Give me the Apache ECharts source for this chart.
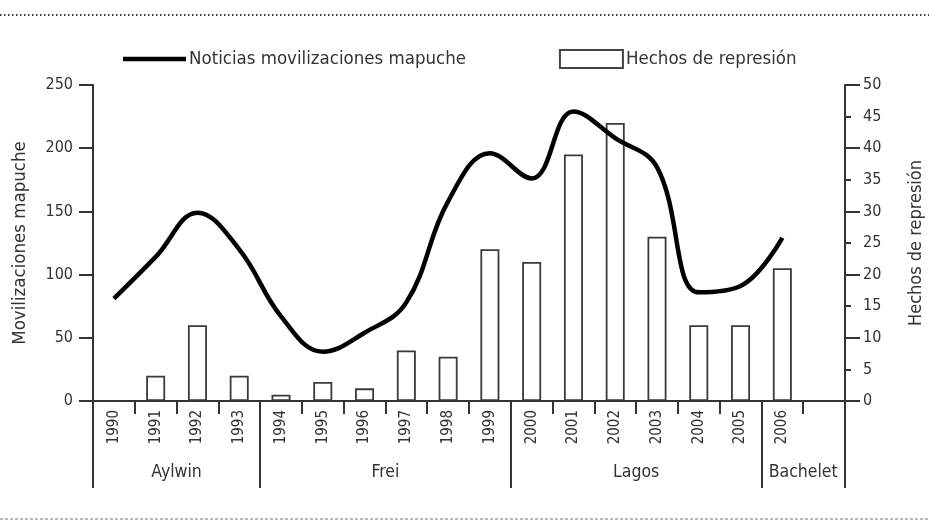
<!DOCTYPE html>
<html>
<head>
<meta charset="utf-8">
<script src="https://cdn.jsdelivr.net/npm/echarts@6/dist/echarts.min.js"></script>
<style>
  html, body { margin: 0; padding: 0; background: #fff; }
  #chart { width: 929px; height: 521px; }
</style>
</head>
<body>
<div id="chart"></div>
<script>
// years on the axis; the last slot is left empty like in the original
var years = ['1990', '1991', '1992', '1993', '1994', '1995', '1996', '1997', '1998',
             '1999', '2000', '2001', '2002', '2003', '2004', '2005', '2006', ''];

// news about mapuche mobilisations (left axis)
var noticias = [81, 114, 149, 120, 67, 39, 54, 78, 158, 196, 176, 229, 208, 185, 86, 91, 129, null];

// acts of repression (right axis)
var represion = [null, 4, 12, 4, 1, 3, 2, 8, 7, 24, 22, 39, 44, 26, 12, 12, 21, null];

// presidential periods and how many years each one spans
var gobiernos = ['Aylwin', 'Frei', 'Lagos', 'Bachelet'];
var gobiernosAnios = [4, 6, 6, 2];

var FONT = "'Liberation Sans Narrow', 'DejaVu Sans Condensed', sans-serif";
var INK = '#333';

// boundaries and centres of the periods, in slot units
var limites = [0];
var centros = [];
gobiernosAnios.forEach(function (n, i) {
  centros.push(limites[i] + n / 2);
  limites.push(limites[i] + n);
});

var chart = echarts.init(document.getElementById('chart'));

var option = {
  animation: false,
  textStyle: { fontFamily: FONT, color: INK },
  grid: { left: 93, right: 84, top: 85, bottom: 120, outerBoundsMode: 'none' },
  legend: {
    left: 123,
    top: 49,
    padding: 0,
    itemWidth: 63,
    itemHeight: 18,
    itemGap: 93,
    symbolKeepAspect: true,
    textStyle: { fontFamily: FONT, fontSize: 18.5, color: INK, padding: [0, 0, 0, -2] },
    data: [
      { name: 'Noticias movilizaciones mapuche', icon: 'path://M0,0L64,0L64,4.5L0,4.5Z',
        itemStyle: { color: '#000', borderWidth: 0 } },
      { name: 'Hechos de represión', icon: 'rect',
        itemStyle: { color: '#fff', borderColor: '#444', borderWidth: 2 } }
    ]
  },
  xAxis: [
    {
      type: 'category',
      data: years,
      boundaryGap: true,
      axisLine: { show: true, lineStyle: { color: INK, width: 2 } },
      axisTick: { show: true, interval: 0, length: 13, lineStyle: { color: INK, width: 2 } },
      axisLabel: { interval: 0, rotate: 90, margin: 9, fontSize: 15, color: INK, fontFamily: FONT }
    },
    {
      type: 'value',
      min: 0,
      max: years.length,
      position: 'bottom',
      axisLine: { show: false },
      splitLine: { show: false },
      axisTick: { show: true, customValues: limites, length: 87, lineStyle: { color: INK, width: 2 } },
      axisLabel: {
        customValues: centros,
        margin: 62,
        fontSize: 17.5,
        color: INK,
        fontFamily: FONT,
        formatter: function (v) { return gobiernos[centros.indexOf(v)]; }
      }
    }
  ],
  yAxis: [
    {
      type: 'value',
      position: 'left',
      min: 0,
      max: 250,
      interval: 50,
      name: 'Movilizaciones mapuche',
      nameLocation: 'middle',
      nameRotate: 90,
      nameGap: 63,
      nameTextStyle: { fontFamily: FONT, fontSize: 18.5, color: INK },
      axisLine: { show: true, lineStyle: { color: INK, width: 2 } },
      axisTick: { show: true, length: 14, lineStyle: { color: INK, width: 2 } },
      axisLabel: { margin: 20, fontSize: 16, color: INK, fontFamily: FONT },
      splitLine: { show: false }
    },
    {
      type: 'value',
      position: 'right',
      min: 0,
      max: 50,
      interval: 5,
      name: 'Hechos de represión',
      nameLocation: 'middle',
      nameRotate: 90,
      nameGap: 62,
      nameTextStyle: { fontFamily: FONT, fontSize: 18, color: INK },
      axisLine: { show: true, lineStyle: { color: INK, width: 2 } },
      axisTick: { show: true, length: 6, lineStyle: { color: INK, width: 2 } },
      axisLabel: { margin: 18, fontSize: 16, color: INK, fontFamily: FONT },
      splitLine: { show: false }
    },
    {
      // longer ticks every 10 on the right side
      type: 'value',
      position: 'right',
      min: 0,
      max: 50,
      interval: 10,
      axisLine: { show: false },
      axisTick: { show: true, length: 15, lineStyle: { color: INK, width: 2 } },
      axisLabel: { show: false },
      splitLine: { show: false }
    }
  ],
  series: [
    {
      name: 'Hechos de represión',
      type: 'bar',
      yAxisIndex: 1,
      barWidth: 19,
      data: represion,
      itemStyle: { color: '#fff', borderColor: '#3a3a3a', borderWidth: 1.8 }
    },
    {
      name: 'Noticias movilizaciones mapuche',
      type: 'line',
      yAxisIndex: 0,
      smooth: 0.4,
      symbol: 'none',
      data: noticias,
      lineStyle: { color: '#000', width: 4.5 },
      itemStyle: { color: '#000' }
    }
  ],
  graphic: [
    {
      type: 'line',
      shape: { x1: 0, y1: 15, x2: 929, y2: 15 },
      style: { stroke: '#444', lineWidth: 2, lineDash: [1.5, 2.5] }
    },
    {
      type: 'line',
      shape: { x1: 0, y1: 519, x2: 929, y2: 519 },
      style: { stroke: '#777', lineWidth: 1.2, lineDash: [3, 2] }
    }
  ]
};

chart.setOption(option);
</script>
</body>
</html>
